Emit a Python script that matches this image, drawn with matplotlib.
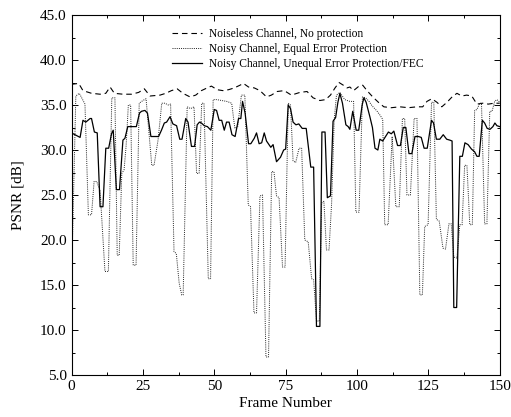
'''PSNR per frame for three channel / protection settings.'''

# ----------------------------------------------------------------------------
# Modules

from matplotlib import pyplot as plt
from matplotlib.ticker import MultipleLocator, FormatStrFormatter

# ----------------------------------------------------------------------------
# Data (frame number, PSNR in dB)

noiseless_frames = [0, 2.5, 4, 7, 10, 12, 13.5, 15, 18, 21, 23.5, 25.5, 27.5,
                    31, 33, 35, 37, 39, 41.5, 43.5, 45.5, 47.5, 49, 51, 53,
                    55, 57, 59, 60.2, 62, 64, 66, 68.3, 70, 72, 74.5, 76, 77,
                    78, 80, 82.5, 84.6, 87, 89, 90.7, 92.3, 93.7, 95.2, 96.5,
                    97.5, 98.8, 100.7, 102, 103.5, 105.5, 107.5, 109.4, 112,
                    115, 118, 121, 123, 124.5, 126.2, 128, 129.7, 131.5,
                    133.3, 135, 136.7, 138.4, 140.2, 142, 144, 146, 148, 150]
noiseless_psnr = [37.3, 37.4, 36.6, 36.3, 36.2, 36.3, 37.0, 36.3, 36.2, 36.2,
                  36.4, 36.8, 36.0, 36.1, 36.3, 36.6, 36.8, 36.3, 35.9, 36.1,
                  36.6, 36.9, 37.1, 36.7, 36.6, 36.7, 36.9, 37.2, 37.4, 37.0,
                  36.9, 36.6, 35.9, 36.1, 36.5, 36.6, 36.3, 36.1, 36.2, 36.4,
                  36.5, 35.8, 35.5, 35.6, 36.1, 36.9, 37.5, 37.2, 36.9, 37.0,
                  36.6, 37.1, 37.2, 36.6, 35.9, 35.3, 34.8, 34.7, 34.8, 34.7,
                  34.8, 34.8, 35.4, 35.7, 35.3, 34.8, 35.3, 35.9, 36.3, 36.0,
                  36.1, 36.0, 35.1, 35.2, 35.1, 35.2, 35.2]

eep_frames = [0, 1.5, 2.7, 3.4, 4.7, 5.9, 7, 7.9, 8.8, 10, 11.7, 12.9, 14.1,
              15.2, 16, 16.7, 17.6, 18.4, 19.1, 19.9, 20.7, 21.6, 22.6, 23.7,
              25, 26.1, 27.2, 28.1, 28.9, 30.3, 31.6, 32.7, 33.9, 34.7, 35.9,
              36.7, 37.7, 38.6, 39.1, 40.5, 41.7, 42.9, 43.8, 44.7, 45.6,
              46.4, 47.9, 48.7, 49.6, 50.8, 52.6, 54.4, 56.1, 57.2, 58.2,
              59.5, 60.7, 61.9, 62.7, 63.9, 64.8, 66, 66.9, 68.1, 69, 70.1,
              70.9, 71.8, 72.7, 73.9, 74.8, 75.9, 76.7, 77.6, 78.5, 79.7,
              80.6, 81.7, 82.9, 84.1, 84.8, 85.8, 86.8, 87.6, 88.4, 89.3,
              90.2, 91.1, 92, 92.8, 94, 95.7, 97.5, 98.8, 99.6, 100.7, 101.9,
              103, 104.2, 105.3, 106.8, 108, 109, 109.7, 110.9, 112.3, 113.6,
              114.8, 115.9, 116.7, 117.5, 118.7, 120, 121, 122, 122.9, 123.7,
              124.9, 126.1, 126.9, 127.8, 128.8, 130.1, 131, 132.2, 133,
              133.9, 135, 136, 136.8, 137.7, 138.5, 139.5, 140.4, 141.2, 142,
              143, 143.6, 144.7, 145.5, 146.5, 147.3, 148.2, 149, 150]
eep_psnr = [15.4, 36.0, 36.3, 35.9, 35.1, 22.8, 22.8, 26.5, 26.5, 25.5, 16.5,
            16.5, 35.8, 35.8, 18.3, 18.3, 27.4, 27.8, 30.4, 35.0, 35.0, 17.2,
            17.2, 35.2, 35.5, 35.7, 31.7, 28.3, 28.3, 31.1, 35.2, 35.2, 35.0,
            35.1, 18.7, 18.5, 15.2, 13.9, 13.9, 34.8, 34.6, 34.8, 27.4, 27.4,
            35.2, 35.2, 15.7, 15.7, 35.6, 35.6, 35.5, 35.4, 35.2, 32.4, 32.6,
            36.1, 36.1, 23.9, 23.7, 11.9, 11.9, 24.9, 25.0, 7.0, 7.0, 27.6,
            27.6, 24.9, 24.7, 17.0, 17.0, 35.2, 35.0, 28.8, 28.6, 30.2, 30.2,
            20.0, 19.8, 15.7, 15.6, 11.0, 11.0, 24.1, 24.3, 18.9, 18.9, 24.1,
            33.3, 36.1, 36.4, 35.6, 35.4, 35.4, 23.1, 23.1, 35.9, 35.8, 35.4,
            34.9, 34.4, 33.9, 33.4, 21.7, 21.7, 31.5, 23.7, 23.7, 33.5, 33.5,
            25.0, 25.0, 33.5, 33.5, 13.9, 13.9, 21.5, 21.7, 35.3, 35.3, 22.3,
            22.1, 19.1, 19.0, 21.8, 21.8, 18.1, 18.0, 21.7, 21.7, 28.3, 28.3,
            21.7, 21.7, 34.4, 34.5, 35.2, 35.2, 21.8, 21.8, 34.3, 34.3, 35.4,
            35.6, 35.3]

uep_frames = [0, 3, 4, 5, 6.5, 7, 8, 9, 10, 11, 12, 13, 14, 14.6, 15.7, 16.8,
              18, 18.7, 19.7, 22.7, 23.8, 24.5, 25.7, 26.6, 27.8, 30.5, 31.5,
              32.5, 33.3, 34.5, 35.5, 36.8, 37.9, 38.7, 40, 40.8, 42, 43.1,
              44, 44.8, 45.5, 46.5, 47.6, 48.8, 50, 50.8, 51.7, 52.6, 53.5,
              54.3, 55.2, 56.2, 57.3, 58.5, 59.3, 59.9, 60.8, 62, 62.8, 64,
              64.8, 65.7, 66.6, 67.5, 68.3, 69.8, 70.6, 71.8, 73.2, 74.3, 75,
              75.9, 76.7, 77.6, 78.6, 79.6, 80.8, 82.2, 83.8, 84.8, 85.8, 87,
              87.7, 88.8, 89.6, 90.7, 91.6, 92.5, 93.3, 94, 94.9, 96.1, 96.9,
              97.5, 98.5, 99.7, 100.6, 101.8, 102.4, 103.2, 104.5, 105.4,
              106.3, 107.3, 108, 109, 110, 111, 112, 112.9, 114.2, 115.2,
              116.2, 117.1, 118.2, 119.2, 120.3, 121.5, 122.5, 123.5, 124.6,
              126.1, 126.8, 127.8, 129, 130.2, 131.4, 132.5, 133.3, 133.9,
              134.9, 136, 136.9, 137.8, 138.9, 140.1, 141.2, 142, 142.8,
              143.9, 144.7, 145.6, 146.6, 147.6, 148.3, 149, 150]
uep_psnr = [31.9, 31.4, 33.3, 33.1, 33.5, 33.5, 32.0, 31.9, 23.7, 23.7, 30.2,
            30.2, 31.8, 32.2, 25.6, 25.6, 31.1, 31.3, 32.6, 32.6, 34.1, 34.3,
            34.4, 34.1, 31.5, 31.5, 32.2, 33.0, 33.1, 33.7, 32.9, 32.7, 31.2,
            31.2, 33.5, 33.1, 30.4, 30.4, 32.8, 33.1, 33.0, 32.7, 32.6, 32.2,
            34.5, 34.4, 33.3, 33.3, 32.2, 33.1, 33.1, 31.7, 31.5, 33.5, 33.5,
            35.4, 34.1, 30.7, 30.7, 31.3, 31.9, 30.7, 30.8, 31.9, 31.0, 30.3,
            30.6, 28.7, 29.2, 30.0, 30.1, 35.0, 34.6, 33.1, 32.8, 32.9, 32.4,
            32.4, 28.1, 28.1, 10.4, 10.4, 32.0, 32.0, 24.7, 24.9, 33.2, 33.6,
            35.3, 36.3, 35.2, 32.8, 32.6, 32.3, 34.3, 32.2, 32.2, 35.0, 35.8,
            35.3, 33.7, 32.5, 30.2, 30.0, 31.2, 31.0, 31.5, 32.0, 31.8, 32.1,
            30.5, 30.5, 32.5, 32.5, 29.6, 29.6, 31.5, 31.5, 31.4, 30.2, 30.2,
            33.3, 33.0, 31.2, 31.2, 31.7, 31.2, 31.1, 31.0, 12.5, 12.5, 29.3,
            29.3, 30.8, 30.6, 30.1, 29.8, 29.3, 29.3, 33.3, 33.0, 32.4, 32.3,
            32.6, 33.0, 32.7, 32.6]

labels = ['Noiseless Channel, No protection',
          'Noisy Channel, Equal Error Protection',
          'Noisy Channel, Unequal Error Protection/FEC']

# ----------------------------------------------------------------------------


def psnr_plot():
    """Plots the PSNR of every frame and saves it as out.png."""

    plt.rcParams['font.family'] = ['Liberation Serif', 'DejaVu Serif']

    figure = plt.figure(figsize=(5.11, 4.17), dpi=100)
    ax = figure.add_axes([0.140, 0.1007, 0.838, 0.8633])

    ax.plot(noiseless_frames, noiseless_psnr, color='black', linewidth=0.8,
            linestyle=(0, (5, 3.5)), label=labels[0])
    ax.plot(eep_frames, eep_psnr, color='#222222', linewidth=0.7,
            linestyle=(0, (1, 1.2)), label=labels[1])
    ax.plot(uep_frames, uep_psnr, color='black', linewidth=0.9,
            linestyle='-', label=labels[2])

    ax.legend(loc='upper left', bbox_to_anchor=(0.215, 0.985), frameon=False,
              fontsize=8.3, handlelength=2.6, handletextpad=0.6,
              labelspacing=0.22, borderpad=0.2)

    ax.set_xlim(0, 150)
    ax.set_ylim(5, 45)
    ax.xaxis.set_major_locator(MultipleLocator(25))
    ax.xaxis.set_minor_locator(MultipleLocator(12.5))
    ax.yaxis.set_major_locator(MultipleLocator(5))
    ax.yaxis.set_minor_locator(MultipleLocator(2.5))
    ax.yaxis.set_major_formatter(FormatStrFormatter('%.1f'))
    ax.tick_params(which='both', direction='in', top=True, right=True,
                   width=0.7)
    ax.tick_params(which='major', length=4, labelsize=11)
    ax.tick_params(which='minor', length=2.5)
    for spine in ax.spines.values():
        spine.set_linewidth(0.8)

    ax.set_xlabel('Frame Number', fontsize=11, labelpad=3)
    ax.set_ylabel('PSNR [dB]', fontsize=11, labelpad=11)

    # Save Plot
    figure.savefig('out.png', dpi=100)

    return None

# ----------------------------------------------------------------------------


def main():

    psnr_plot()

    return None

# ----------------------------------------------------------------------------


if __name__ == "__main__":
    main()
